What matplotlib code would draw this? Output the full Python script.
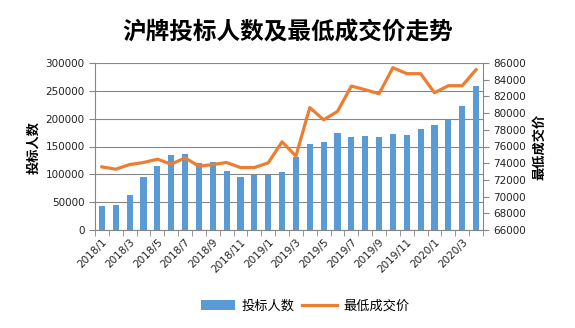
import matplotlib
matplotlib.use("Agg")
import matplotlib.pyplot as plt
from matplotlib.patches import Patch
from matplotlib.lines import Line2D

plt.rcParams['font.family'] = ['Noto Sans CJK SC', 'DejaVu Sans']

months = ["2018/1", "2018/2", "2018/3", "2018/4", "2018/5", "2018/6", "2018/7",
          "2018/8", "2018/9", "2018/10", "2018/11", "2018/12", "2019/1", "2019/2",
          "2019/3", "2019/4", "2019/5", "2019/6", "2019/7", "2019/8", "2019/9",
          "2019/10", "2019/11", "2019/12", "2020/1", "2020/2", "2020/3", "2020/4"]
bidders = [42600, 45600, 62400, 94800, 114600, 135600, 137400, 121200, 123000,
           106800, 96000, 99000, 99000, 103500, 132000, 154000, 158400, 174600,
           167400, 168000, 167400, 172800, 171000, 180600, 189000, 198000,
           223200, 259200]
min_price = [73560, 73280, 73840, 74080, 74480, 73880, 74640, 73640, 73840,
             74080, 73480, 73480, 74040, 76560, 74850, 80660, 79200, 80200,
             83240, 82800, 82320, 85440, 84720, 84720, 82440, 83280, 83280,
             85200]

title = "沪牌投标人数及最低成交价走势"
left_label = "投标人数"
right_label = "最低成交价"

bar_color = "#5B9BD5"
line_color = "#ED7D31"
grid_color = "#868686"
tick_fs = 7.5

fig = plt.figure(figsize=(5.75, 3.28), dpi=100)
ax = fig.add_axes([95/575, 1-230/328, (483-95)/575, (230-63)/328])
x = list(range(len(months)))
ax.bar(x, bidders, width=0.45, color=bar_color, zorder=2)
ax.set_xlim(-0.5, len(months)-0.5)
ax.set_ylim(0, 300000)
ax.set_yticks(range(0, 300001, 50000))
ax.yaxis.grid(True, color=grid_color, linewidth=0.8, zorder=0)
ax.set_axisbelow(True)

ax.set_xticks([i for i in x[::2]])
ax.set_xticklabels(months[::2], rotation=45, ha='right', rotation_mode='anchor',
                   fontsize=tick_fs, family='DejaVu Sans', color='#222222')
ax.set_xticks([i - 0.5 for i in range(len(months)+1)], minor=True)
ax.tick_params(axis='x', which='major', length=0, pad=5)
ax.tick_params(axis='x', which='minor', length=4, color=grid_color)
ax.tick_params(axis='y', length=4, color=grid_color, labelsize=tick_fs, labelcolor='#222222')
for lab in ax.get_yticklabels():
    lab.set_family('DejaVu Sans')

for s in ['top', 'right']:
    ax.spines[s].set_visible(False)
for s in ['left', 'bottom']:
    ax.spines[s].set_color(grid_color)

ax2 = ax.twinx()
ax2.plot(x, min_price, color=line_color, linewidth=2.3, zorder=3)
ax2.set_ylim(66000, 86000)
ax2.set_yticks(range(66000, 86001, 2000))
ax2.tick_params(axis='y', length=4, color=grid_color, labelsize=tick_fs, labelcolor='#222222')
for lab in ax2.get_yticklabels():
    lab.set_family('DejaVu Sans')
for s in ['top', 'left', 'bottom']:
    ax2.spines[s].set_visible(False)
ax2.spines['right'].set_color(grid_color)

fig.text(0.5, 1-32/328, title, ha='center', va='center', fontsize=17, fontweight='bold')
fig.text(33/575, 1-147/328, left_label, rotation=90, ha='center', va='center',
         fontsize=9.5, fontweight='bold')
fig.text(539/575, 1-147/328, right_label, rotation=90, ha='center', va='center',
         fontsize=9.5, fontweight='bold')

handles = [Patch(facecolor=bar_color, edgecolor='none'),
           Line2D([0], [0], color=line_color, linewidth=2.3)]
fig.legend(handles, [left_label, right_label], loc='center', ncol=2,
           bbox_to_anchor=(305/575, 1-306/328), frameon=False, fontsize=9.5,
           handlelength=2.6, columnspacing=0.6, handletextpad=0.5)

fig.savefig("out.png", dpi=100)
